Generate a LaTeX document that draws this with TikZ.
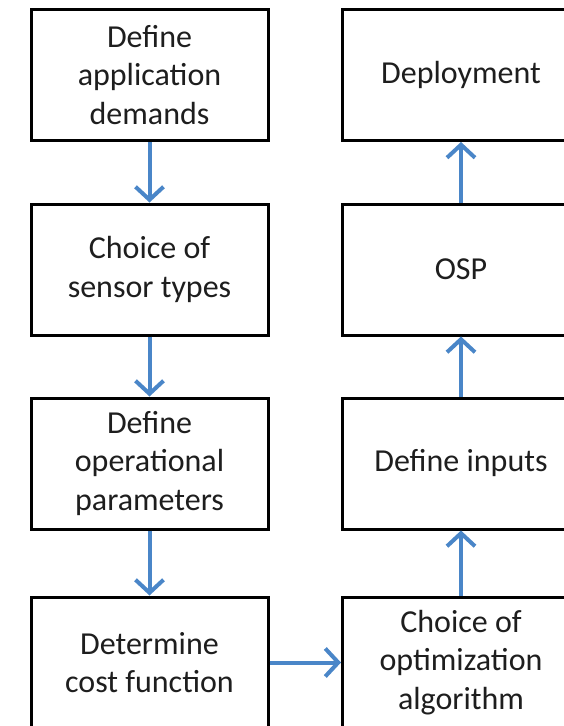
\documentclass[tikz,border=0pt]{standalone}
\usepackage{fontspec}
\setmainfont{Carlito}
\usetikzlibrary{arrows.meta}
\definecolor{flowblue}{RGB}{74,134,200}
\definecolor{ink}{RGB}{30,30,30}
\tikzset{
  stage/.style={draw=black, line width=3pt, minimum width=237pt, minimum height=131pt,
    inner sep=0pt, align=center, text=ink, font=\fontsize{32}{38.4}\selectfont},
  flow/.style={draw=flowblue, line width=4pt,
    -{Straight Barb[length=13pt, width=28pt, line width=4pt]}}
}
\begin{document}
\begin{tikzpicture}[x=1pt, y=-1pt]
  \useasboundingbox (0,0) rectangle (564,726);
  \fill[white] (0,0) rectangle (564,726);
  \clip (0,0) rectangle (564,726);
  % left column
  \node[stage] (demands) at (149.5,75)    {Define\\application\\demands};
  \node[stage] (sensors) at (149.5,269.5) {Choice of\\sensor types};
  \node[stage] (params)  at (149.5,463.5) {Define\\operational\\parameters};
  \node[stage] (cost)    at (149.5,662.5) {Determine\\cost function};
  % right column
  \node[stage] (deploy)  at (461,75)    {Deployment};
  \node[stage] (osp)     at (461,269.5) {OSP};
  \node[stage] (inputs)  at (461,463.5) {Define inputs};
  \node[stage] (algo)    at (461,662.5) {Choice of\\optimization\\algorithm};
  % connectors
  \draw[flow] (demands) -- (sensors);
  \draw[flow] (sensors) -- (params);
  \draw[flow] (params)  -- (cost);
  \draw[flow] (cost)    -- (algo);
  \draw[flow] (algo)    -- (inputs);
  \draw[flow] (inputs)  -- (osp);
  \draw[flow] (osp)     -- (deploy);
\end{tikzpicture}
\end{document}
